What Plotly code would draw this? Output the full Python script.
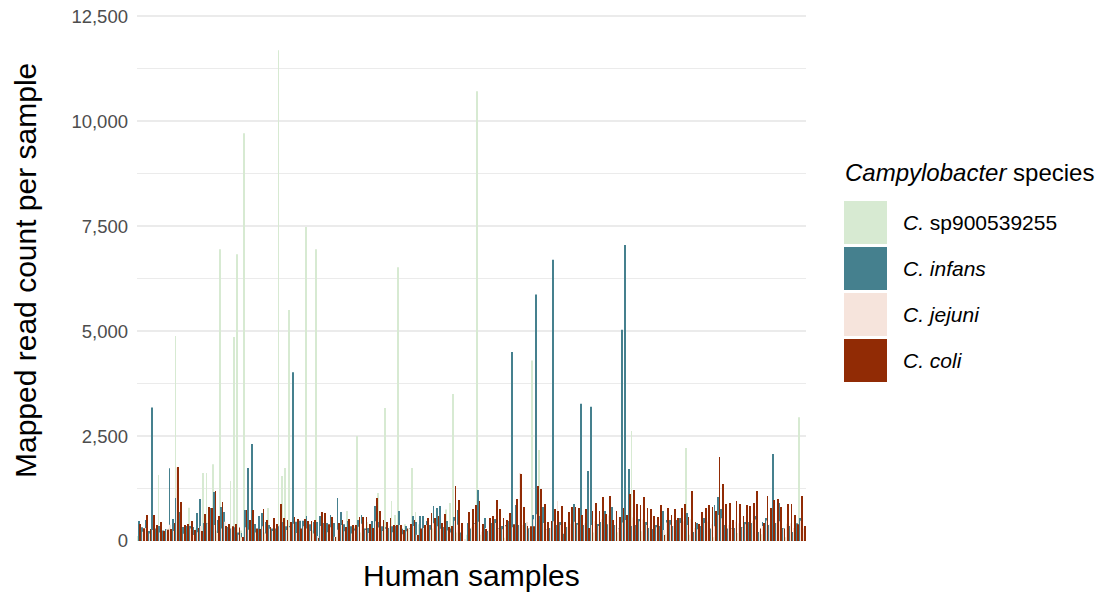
import plotly.graph_objects as go

# Mapped read counts for each human sample, one list per Campylobacter species
samples = [f"S{i:03d}" for i in range(1, 196)]

sp900539255 = [
    120, 60, 210, 90, 40, 150, 1570, 80, 250, 300,
    120, 4880, 200, 90, 350, 790, 120, 300, 150, 1620,
    1620, 400, 1830, 250, 6950, 180, 300, 1430, 4860, 6830,
    250, 9710, 120, 200, 350, 150, 300, 200, 786, 250,
    180, 11690, 1550, 1740, 5500, 300, 200, 450, 150, 7480,
    300, 250, 6950, 200, 350, 150, 400, 250, 100, 300,
    200, 714, 150, 350, 2500, 200, 300, 450, 150, 250,
    1143, 300, 3170, 200, 953, 620, 6520, 250, 400, 300,
    1740, 690, 400, 150, 250, 200, 300, 100, 200, 150,
    750, 905, 3500, 200, 100, 0, 150, 200, 300, 10710,
    150, 200, 90, 250, 140, 210, 310, 80, 170, 230,
    130, 90, 220, 160, 310, 4300, 240, 2170, 140, 70,
    190, 160, 110, 230, 130, 290, 90, 210, 170, 60,
    250, 140, 80, 200, 160, 90, 230, 260, 120, 70,
    210, 150, 320, 180, 2620, 140, 90, 230, 160, 80,
    200, 130, 70, 250, 160, 90, 220, 140, 110, 190,
    2215, 150, 80, 210, 170, 60, 240, 130, 90, 200,
    160, 110, 230, 140, 70, 190, 150, 90, 260, 120,
    80, 210, 160, 100, 230, 130, 70, 200, 150, 90,
    240, 140, 110, 2950, 160,
]

infans = [
    476, 325, 500, 238, 3180, 300, 357, 250, 286, 1730,
    524, 1024, 690, 333, 357, 357, 333, 667, 1000, 430,
    430, 786, 1167, 500, 810, 690, 333, 300, 330, 200,
    190, 740, 1740, 2310, 405, 595, 667, 452, 381, 300,
    300, 350, 450, 350, 360, 4020, 460, 480, 480, 595,
    400, 450, 450, 595, 430, 430, 620, 430, 1024, 690,
    400, 476, 350, 300, 500, 620, 300, 310, 476, 833,
    450, 350, 330, 310, 350, 360, 714, 290, 360, 310,
    595, 450, 595, 595, 476, 381, 833, 786, 833, 333,
    476, 300, 571, 740, 200, 0, 430, 300, 430, 1215,
    190, 548, 240, 430, 524, 310, 360, 381, 476, 4500,
    857, 380, 310, 430, 300, 620, 5870, 595, 810, 286,
    310, 6700, 381, 452, 170, 333, 381, 881, 430, 3270,
    380, 1667, 3200, 430, 405, 452, 714, 400, 810, 380,
    300, 5030, 7050, 1715, 360, 381, 524, 357, 450, 310,
    286, 380, 357, 714, 500, 500, 357, 500, 548, 357,
    667, 310, 214, 430, 357, 548, 360, 300, 857, 1048,
    762, 381, 300, 310, 310, 262, 333, 450, 450, 430,
    595, 214, 450, 548, 380, 2072, 430, 905, 310, 360,
    360, 214, 420, 548, 262,
]

jejuni = [
    150, 220, 310, 180, 260, 340, 200, 120, 280, 390,
    240, 1750, 330, 170, 260, 300, 140, 210, 360, 280,
    420, 250, 380, 190, 300, 460, 230, 310, 180, 150,
    90, 330, 270, 410, 200, 260, 350, 180, 290, 240,
    310, 380, 220, 260, 330, 410, 190, 280, 350, 300,
    240, 180, 120, 360, 290, 210, 330, 100, 270, 380,
    230, 300, 180, 250, 340, 410, 260, 190, 280, 470,
    320, 240, 290, 350, 210, 270, 380, 160, 230, 300,
    360, 150, 240, 310, 380, 270, 420, 350, 290, 330,
    250, 200, 480, 390, 180, 30, 290, 340, 410, 460,
    220, 310, 260, 370, 430, 300, 280, 350, 410, 330,
    600, 1620, 380, 450, 300, 520, 640, 560, 430, 280,
    310, 470, 950, 380, 220, 340, 410, 460, 390, 350,
    420, 300, 380, 470, 360, 520, 400, 610, 330, 380,
    290, 440, 500, 900, 560, 420, 470, 510, 380, 350,
    300, 330, 420, 260, 440, 390, 360, 300, 430, 470,
    380, 520, 310, 280, 390, 430, 460, 400, 350, 620,
    540, 410, 380, 300, 460, 420, 330, 400, 440, 470,
    510, 250, 360, 490, 400, 450, 430, 470, 300, 410,
    420, 310, 330, 480, 300,
]

coli = [
    405, 302, 620, 286, 620, 381, 452, 238, 270, 286,
    430, 1763, 929, 381, 405, 476, 262, 310, 238, 643,
    810, 786, 1190, 595, 929, 357, 405, 350, 405, 320,
    95, 740, 500, 740, 300, 286, 762, 500, 333, 548,
    405, 881, 548, 500, 452, 571, 524, 300, 524, 476,
    476, 500, 70, 690, 667, 400, 571, 95, 430, 500,
    333, 524, 381, 381, 571, 571, 571, 405, 310, 1024,
    714, 500, 452, 548, 381, 381, 381, 262, 300, 405,
    500, 140, 300, 381, 548, 667, 548, 595, 430, 643,
    333, 357, 1310, 977, 430, 0, 690, 762, 857, 953,
    405, 286, 548, 595, 977, 762, 548, 500, 667, 400,
    1000, 1596, 810, 360, 350, 350, 1310, 1240, 881, 452,
    476, 762, 714, 833, 452, 690, 810, 810, 786, 620,
    762, 310, 714, 905, 714, 1048, 643, 1072, 500, 714,
    571, 786, 620, 1120, 1215, 881, 857, 1048, 786, 762,
    595, 571, 857, 143, 786, 620, 762, 548, 786, 881,
    570, 1190, 452, 405, 690, 786, 857, 810, 714, 2000,
    1358, 881, 905, 500, 953, 881, 595, 857, 833, 905,
    1190, 300, 430, 1072, 786, 977, 1000, 810, 300, 881,
    881, 620, 400, 1072, 357,
]

species = ["C. sp900539255", "C. infans", "C. jejuni", "C. coli"]
species_html = ["<i>C.</i> sp900539255", "<i>C. infans</i>", "<i>C. jejuni</i>", "<i>C. coli</i>"]
counts = [sp900539255, infans, jejuni, coli]
colors = ["#D7EAD2", "#45808E", "#F6E4DC", "#912B05"]

W, H = 1103, 594
L, R, T, B = 137, 297, 12, 53
FONT = "Liberation Sans, Arial, Helvetica, sans-serif"


def xp(px):
    return (px - L) / (W - L - R)


def yp(py):
    return (H - B - py) / (H - T - B)


fig = go.Figure()
for name, vals, col in zip(species, counts, colors):
    fig.add_trace(go.Bar(
        x=samples, y=vals, name=name,
        marker=dict(color=col, line=dict(width=0)),
        showlegend=False,
    ))

fig.update_layout(
    barmode="group", bargap=0.1, bargroupgap=0,
    width=W, height=H, autosize=False,
    margin=dict(l=L, r=R, t=T, b=B, autoexpand=False),
    plot_bgcolor="white", paper_bgcolor="white",
    font=dict(family=FONT, color="#000000"),
    showlegend=False,
)
fig.update_xaxes(
    showticklabels=False, showgrid=False, zeroline=False, ticks="",
    automargin=False,
    range=[-0.6, len(samples) - 0.4],
)
fig.update_yaxes(
    range=[0, 12600], tick0=0, dtick=2500, tickformat=",",
    showgrid=True, gridcolor="#EBEBEB", gridwidth=1.6,
    minor=dict(tick0=0, dtick=1250, showgrid=True, gridcolor="#EBEBEB", gridwidth=0.8),
    zeroline=False, showline=False, ticks="",
    automargin=False,
    tickfont=dict(size=18.5, color="#4D4D4D", family=FONT),
    ticklabelstandoff=8,
)

annotations = [
    dict(text="Mapped read count per sample", x=xp(25), y=yp(271), xref="paper", yref="paper",
         textangle=-90, showarrow=False, xanchor="center", yanchor="middle",
         font=dict(size=30, color="#000000", family=FONT)),
    dict(text="Human samples", x=xp(471.5), y=yp(575), xref="paper", yref="paper",
         showarrow=False, xanchor="center", yanchor="middle",
         font=dict(size=30, color="#000000", family=FONT)),
    dict(text="<i>Campylobacter</i> species", x=xp(843), y=yp(172), xref="paper", yref="paper",
         showarrow=False, xanchor="left", yanchor="middle",
         font=dict(size=24, color="#000000", family=FONT)),
]

# Legend keys: one filled square per species with its label
shapes = []
key_tops = [201, 247, 293, 339]
for top, col, label in zip(key_tops, colors, species_html):
    shapes.append(dict(type="rect", xref="paper", yref="paper",
                       x0=xp(844), x1=xp(887), y0=yp(top + 43), y1=yp(top),
                       fillcolor=col, line=dict(width=0), layer="above"))
    annotations.append(dict(text=label, x=xp(901), y=yp(top + 21.5), xref="paper", yref="paper",
                            showarrow=False, xanchor="left", yanchor="middle",
                            font=dict(size=21, color="#000000", family=FONT)))

fig.update_layout(annotations=annotations, shapes=shapes)

fig.write_html("out.html")
